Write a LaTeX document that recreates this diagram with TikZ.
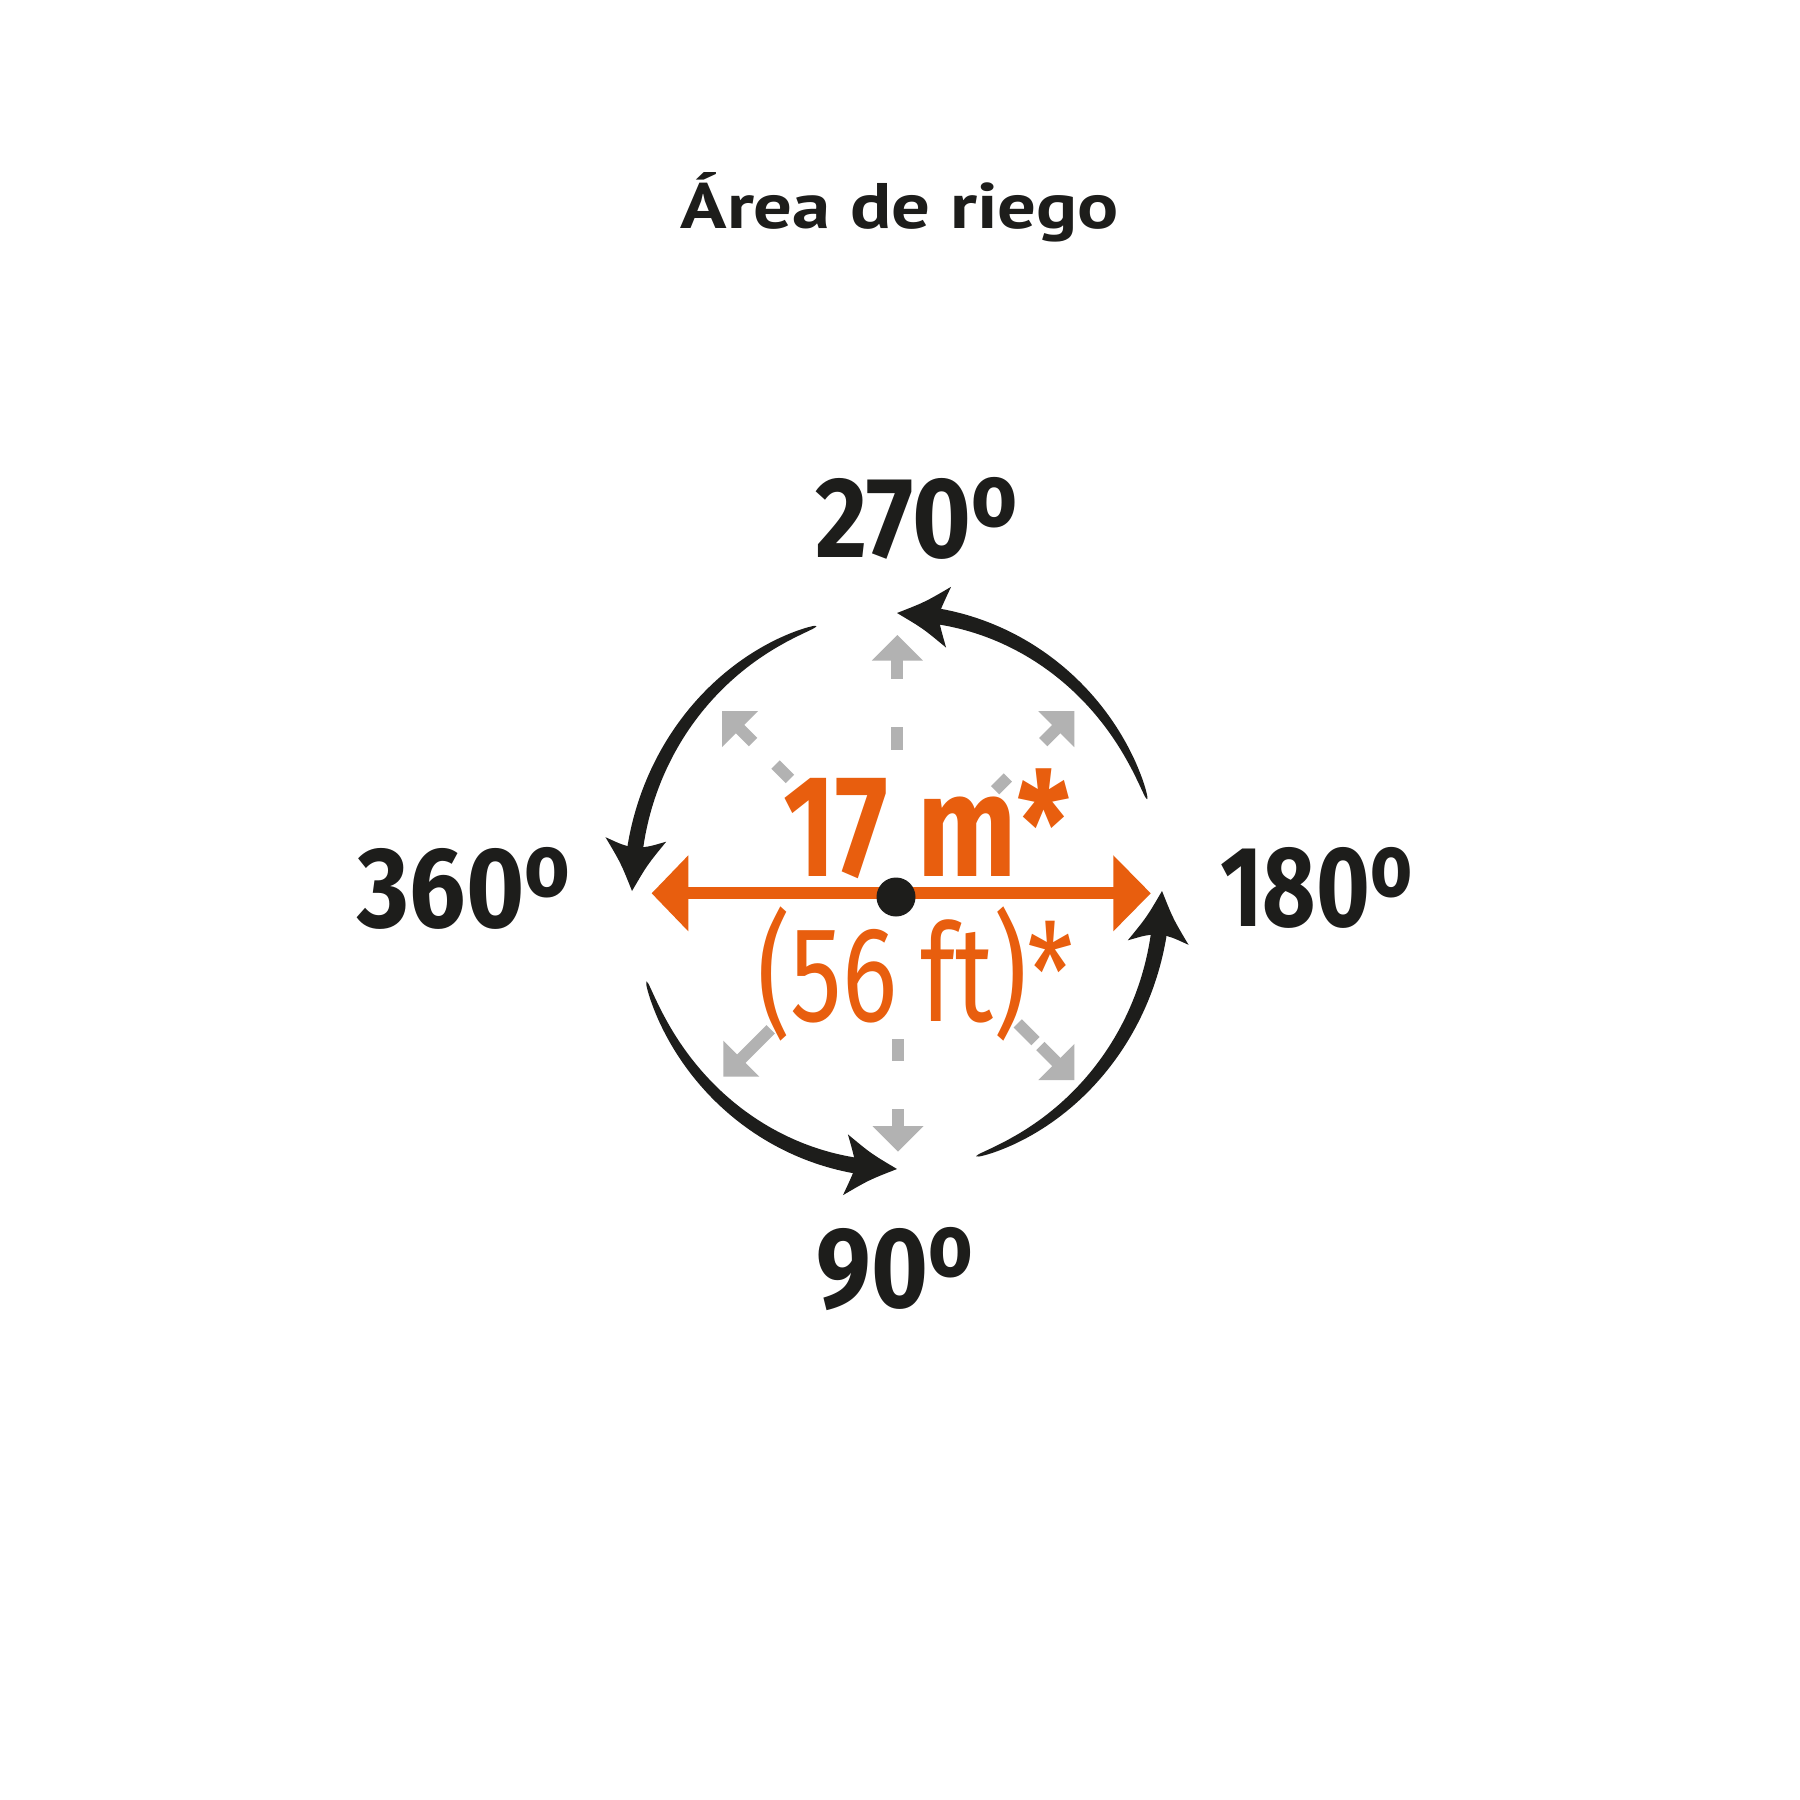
\documentclass[tikz,border=0pt]{standalone}
\usepackage{fontspec}
\setmainfont{Fira Sans}
\newfontfamily\titlefont{PT Sans}
\usepackage{graphicx}
\usetikzlibrary{calc}
\definecolor{tblack}{RGB}{29,29,27}
\definecolor{torange}{RGB}{232,94,14}
\definecolor{tgrey}{RGB}{178,178,178}
\newcommand\fitw[2]{\resizebox{#1}{\height}{#2}}
\newcommand\dg{\raisebox{8.7pt}{\fontsize{25.5pt}{26pt}\selectfont o}}
\newcommand\lblfont{\fontsize{32.6pt}{38pt}\selectfont\bfseries}
\newcommand\myboldbig{\fontsize{41.3pt}{48pt}\selectfont\bfseries}
\newcommand\myregbig{\fontsize{38.6pt}{46pt}\selectfont\mdseries}
\def\cx{897}\def\cy{891}\def\ea{265}\def\eb{278}\def\wm{16}
% grey dashed arrow pieces
\newcommand\garrow[4]{%
  \begin{scope}[shift={(#1,#2)},rotate=#3]
    \fill[tgrey] (0,0) -- (-25.5,25.5) -- (-25.5,-25.5) -- cycle;
    \fill[tgrey] (-25,-5.85) rectangle (-#4,5.85);
  \end{scope}}
\newcommand\gdash[5]{%
  \begin{scope}[shift={(#1,#2)},rotate=#3]
    \fill[tgrey] (-#4,-5.85) rectangle (-#5,5.85);
  \end{scope}}
% tapered black arc with arrow head
\newcommand\blackarc[2]{%
  \pgfmathsetmacro\tA{#1}%
  \pgfmathsetmacro\tN{#2-8.9}%
  \pgfmathsetmacro\tE{#2-7}%
  \pgfmathsetmacro\tS{\tE-\tA}%
  \fill[tblack] plot[domain=\tA:\tE,samples=120,variable=\t]
      ({\cx+(\ea+0.5*\wm*((\t-\tA)/\tS+0.0001)^0.42)*cos(\t)},
       {\cy-(\eb+0.5*\wm*((\t-\tA)/\tS+0.0001)^0.42)*sin(\t)})
    -- plot[domain=\tE:\tA,samples=120,variable=\t]
      ({\cx+(\ea-0.5*\wm*((\t-\tA)/\tS+0.0001)^0.42)*cos(\t)},
       {\cy-(\eb-0.5*\wm*((\t-\tA)/\tS+0.0001)^0.42)*sin(\t)})
    -- cycle;
  \coordinate (T) at ({\cx+\ea*cos(#2)},{\cy-\eb*sin(#2)});
  \coordinate (N) at ({\cx+\ea*cos(\tN)},{\cy-\eb*sin(\tN)});
  \fill[tblack] (T) .. controls ($(T)!0.30cm!26:(N)$) .. ($(T)!0.60cm!30.5:(N)$)
     .. controls ($(T)!0.47cm!16:(N)$) .. (N)
     .. controls ($(T)!0.47cm!-16:(N)$) .. ($(T)!0.60cm!-30.5:(N)$)
     .. controls ($(T)!0.30cm!-26:(N)$) .. (T) -- cycle;}
\begin{document}
\begin{tikzpicture}[x=0.01cm,y=-0.01cm]
\useasboundingbox (0,0) rectangle (1800,1800);
\fill[white] (0,0) rectangle (1800,1800);

% title
\node[anchor=base,inner sep=0,text=tblack] (title) at (899.7,228.3)
  {\titlefont\fontsize{18.3pt}{22pt}\selectfont\bfseries\fitw{4.38cm}{Área de riego}};

% angle labels
\node[anchor=base,inner sep=0,text=tblack] (l270) at (916.3,557.3) {\lblfont\fitw{2.02cm}{270\dg}};
\node[anchor=base,inner sep=0,text=tblack] (l360) at (463.9,927.3) {\lblfont\fitw{2.12cm}{360\dg}};
\node[anchor=base,inner sep=0,text=tblack] (l180) at (1316.2,926.7) {\lblfont\fitw{1.92cm}{180\dg}};
\node[anchor=base,inner sep=0,text=tblack] (l90) at (894.5,1307.3) {\lblfont\fitw{1.56cm}{90\dg}};

% grey arrows
\garrow{897.3}{635}{90}{44.3}
\gdash{897.3}{635}{90}{92.3}{115}
\garrow{898}{1151.7}{270}{42.4}
\gdash{898}{1151.7}{270}{90.7}{112.4}
\garrow{722}{711}{135}{44}
\gdash{722}{711}{135}{75.7}{96}
\garrow{1074.3}{711}{45}{44}
\gdash{1074.3}{711}{45}{94}{112}
\garrow{723.3}{1076.7}{225}{67}
\garrow{1074.3}{1080}{315}{48}
\gdash{1074.3}{1080}{315}{55}{80}

% black rotation arcs
\blackarc{19.3}{90}
\blackarc{107.7}{180}
\blackarc{199}{270}
\blackarc{287.4}{360}

% orange double arrow
\fill[torange] (687,887.3) rectangle (1115,899.3);
\fill[torange] (651.7,893.3) -- (688.3,855.3) -- (688.3,931.3) -- cycle;
\fill[torange] (1150.7,893.3) -- (1113.3,855.3) -- (1113.3,931.3) -- cycle;

% orange texts
\node[anchor=base,inner sep=0,text=torange] (t17) at (836,876.7) {\myboldbig\fitw{1.05cm}{17}};
\node[anchor=base,inner sep=0,text=torange] (tm) at (994,876.7) {\myboldbig\fitw{1.52cm}{m*}};
\node[anchor=base,inner sep=0,text=torange] (t56) at (827.5,1021.5) {\myregbig\fitw{1.40cm}{(56}};
\node[anchor=base,inner sep=0,text=torange] (tft) at (996.7,1021.5) {\myregbig\fitw{1.53cm}{ft)*}};

% centre dot
\fill[tblack] (896,897) circle (19.5);
\end{tikzpicture}
\end{document}
